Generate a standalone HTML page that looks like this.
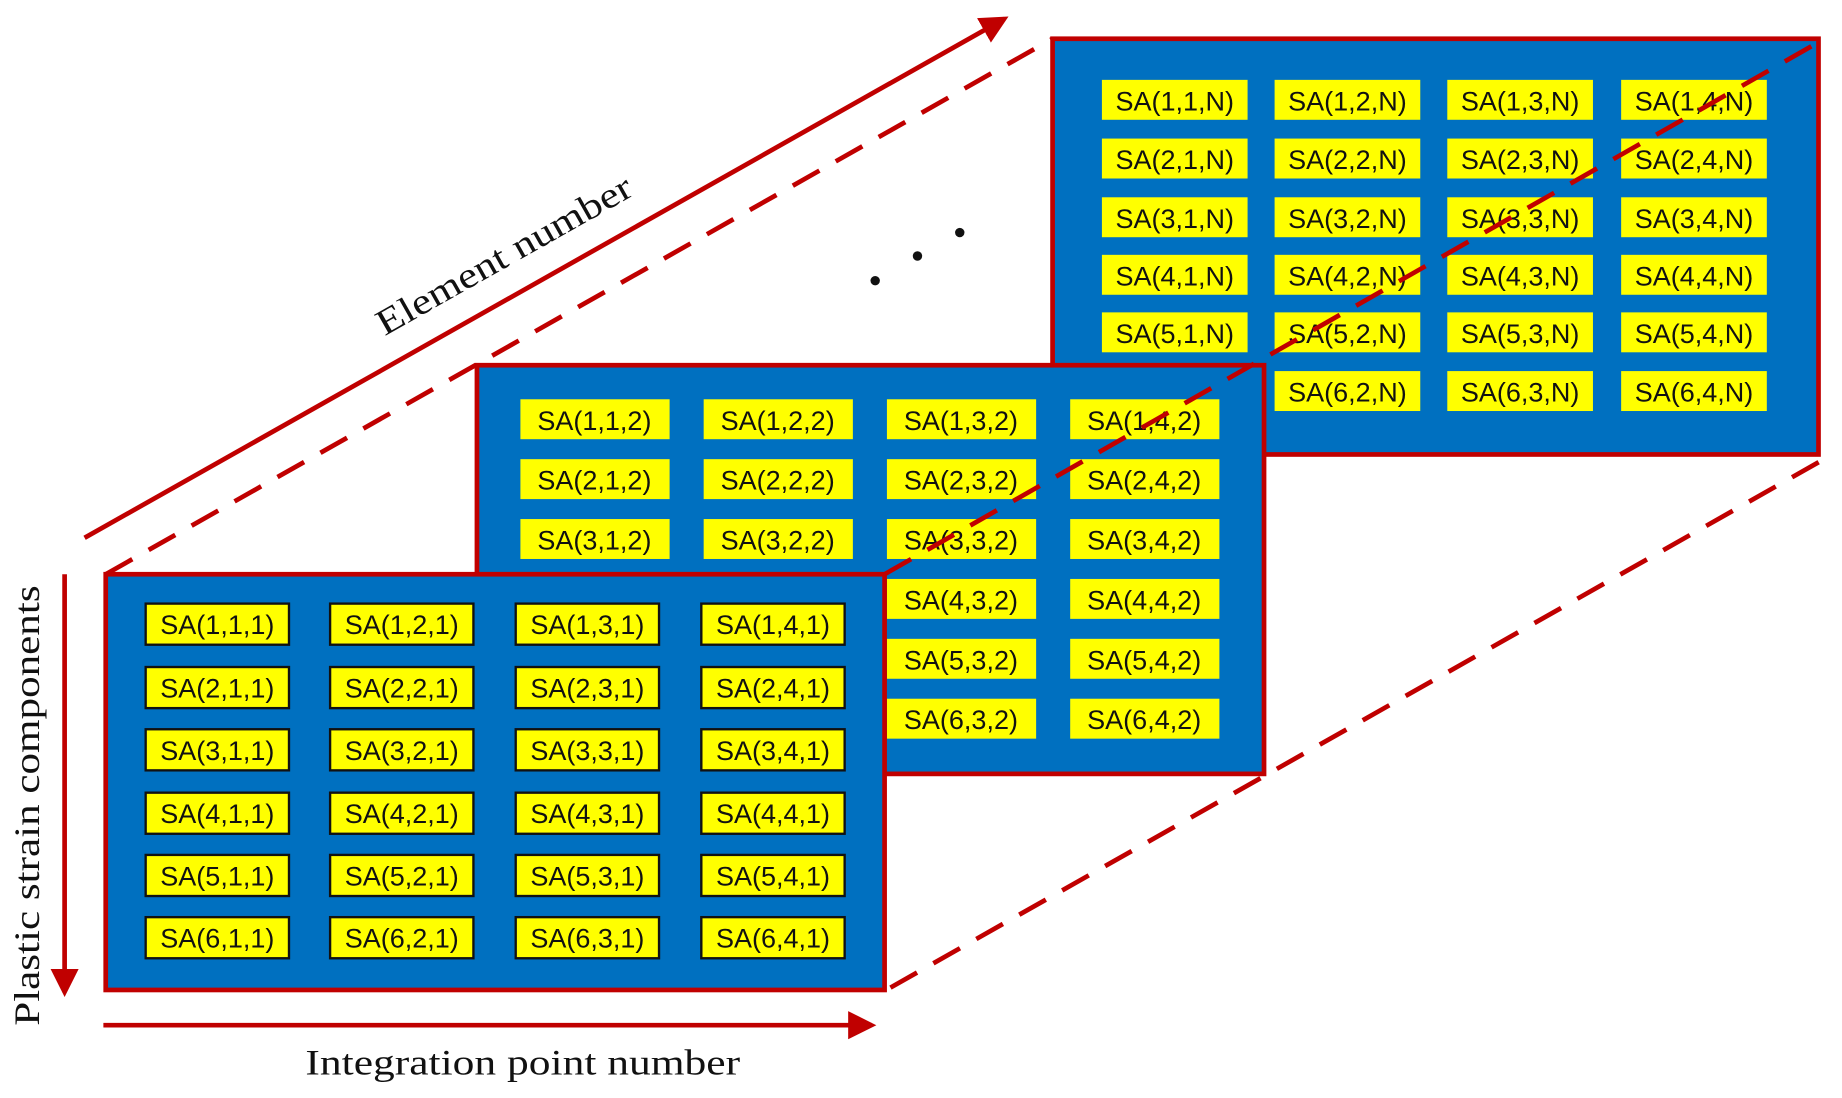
<!DOCTYPE html>
<html><head><meta charset="utf-8"><style>
html,body{margin:0;padding:0;background:#fff;}
svg{display:block;}
.b text{font-family:"Liberation Sans",sans-serif;font-size:23px;fill:#111;text-anchor:middle;}
.s{font-family:"Liberation Serif",serif;font-size:31px;fill:#111;}
</style></head><body>
<svg width="1842" height="1098" viewBox="0 0 1568 935" preserveAspectRatio="none" xmlns="http://www.w3.org/2000/svg">
<defs>
<marker id="ah" markerWidth="6" markerHeight="6" refX="5" refY="3" orient="auto" markerUnits="strokeWidth"><path d="M0,0 L6,3 L0,6 Z" fill="#C00000"/></marker>
</defs>
<line x1="72" y1="458" x2="855" y2="16" stroke="#C00000" stroke-width="4" marker-end="url(#ah)"/>
<line x1="90" y1="489" x2="896" y2="33" stroke="#C00000" stroke-width="4" stroke-dasharray="26,16"/>
<rect x="896" y="33" width="652" height="354" fill="#0070C0" stroke="#C00000" stroke-width="4"/>
<g class="b">
<g fill="#FFFF00">
<rect x="938" y="68" width="124" height="34"/><rect x="1085" y="68" width="124" height="34"/><rect x="1232" y="68" width="124" height="34"/><rect x="1380" y="68" width="124" height="34"/>
<rect x="938" y="118" width="124" height="34"/><rect x="1085" y="118" width="124" height="34"/><rect x="1232" y="118" width="124" height="34"/><rect x="1380" y="118" width="124" height="34"/>
<rect x="938" y="168" width="124" height="34"/><rect x="1085" y="168" width="124" height="34"/><rect x="1232" y="168" width="124" height="34"/><rect x="1380" y="168" width="124" height="34"/>
<rect x="938" y="217" width="124" height="34"/><rect x="1085" y="217" width="124" height="34"/><rect x="1232" y="217" width="124" height="34"/><rect x="1380" y="217" width="124" height="34"/>
<rect x="938" y="266" width="124" height="34"/><rect x="1085" y="266" width="124" height="34"/><rect x="1232" y="266" width="124" height="34"/><rect x="1380" y="266" width="124" height="34"/>
<rect x="938" y="316" width="124" height="34"/><rect x="1085" y="316" width="124" height="34"/><rect x="1232" y="316" width="124" height="34"/><rect x="1380" y="316" width="124" height="34"/>
</g>
<text x="1000" y="94">SA(1,1,N)</text><text x="1147" y="94">SA(1,2,N)</text><text x="1294" y="94">SA(1,3,N)</text><text x="1442" y="94">SA(1,4,N)</text>
<text x="1000" y="144">SA(2,1,N)</text><text x="1147" y="144">SA(2,2,N)</text><text x="1294" y="144">SA(2,3,N)</text><text x="1442" y="144">SA(2,4,N)</text>
<text x="1000" y="194">SA(3,1,N)</text><text x="1147" y="194">SA(3,2,N)</text><text x="1294" y="194">SA(3,3,N)</text><text x="1442" y="194">SA(3,4,N)</text>
<text x="1000" y="243">SA(4,1,N)</text><text x="1147" y="243">SA(4,2,N)</text><text x="1294" y="243">SA(4,3,N)</text><text x="1442" y="243">SA(4,4,N)</text>
<text x="1000" y="292">SA(5,1,N)</text><text x="1147" y="292">SA(5,2,N)</text><text x="1294" y="292">SA(5,3,N)</text><text x="1442" y="292">SA(5,4,N)</text>
<text x="1000" y="342">SA(6,1,N)</text><text x="1147" y="342">SA(6,2,N)</text><text x="1294" y="342">SA(6,3,N)</text><text x="1442" y="342">SA(6,4,N)</text>
</g>
<rect x="406" y="311" width="670" height="348" fill="#0070C0" stroke="#C00000" stroke-width="4"/>
<g class="b">
<g fill="#FFFF00">
<rect x="443" y="340" width="127" height="34"/><rect x="599" y="340" width="127" height="34"/><rect x="755" y="340" width="127" height="34"/><rect x="911" y="340" width="127" height="34"/>
<rect x="443" y="391" width="127" height="34"/><rect x="599" y="391" width="127" height="34"/><rect x="755" y="391" width="127" height="34"/><rect x="911" y="391" width="127" height="34"/>
<rect x="443" y="442" width="127" height="34"/><rect x="599" y="442" width="127" height="34"/><rect x="755" y="442" width="127" height="34"/><rect x="911" y="442" width="127" height="34"/>
<rect x="443" y="493" width="127" height="34"/><rect x="599" y="493" width="127" height="34"/><rect x="755" y="493" width="127" height="34"/><rect x="911" y="493" width="127" height="34"/>
<rect x="443" y="544" width="127" height="34"/><rect x="599" y="544" width="127" height="34"/><rect x="755" y="544" width="127" height="34"/><rect x="911" y="544" width="127" height="34"/>
<rect x="443" y="595" width="127" height="34"/><rect x="599" y="595" width="127" height="34"/><rect x="755" y="595" width="127" height="34"/><rect x="911" y="595" width="127" height="34"/>
</g>
<text x="506" y="366">SA(1,1,2)</text><text x="662" y="366">SA(1,2,2)</text><text x="818" y="366">SA(1,3,2)</text><text x="974" y="366">SA(1,4,2)</text>
<text x="506" y="417">SA(2,1,2)</text><text x="662" y="417">SA(2,2,2)</text><text x="818" y="417">SA(2,3,2)</text><text x="974" y="417">SA(2,4,2)</text>
<text x="506" y="468">SA(3,1,2)</text><text x="662" y="468">SA(3,2,2)</text><text x="818" y="468">SA(3,3,2)</text><text x="974" y="468">SA(3,4,2)</text>
<text x="506" y="519">SA(4,1,2)</text><text x="662" y="519">SA(4,2,2)</text><text x="818" y="519">SA(4,3,2)</text><text x="974" y="519">SA(4,4,2)</text>
<text x="506" y="570">SA(5,1,2)</text><text x="662" y="570">SA(5,2,2)</text><text x="818" y="570">SA(5,3,2)</text><text x="974" y="570">SA(5,4,2)</text>
<text x="506" y="621">SA(6,1,2)</text><text x="662" y="621">SA(6,2,2)</text><text x="818" y="621">SA(6,3,2)</text><text x="974" y="621">SA(6,4,2)</text>
</g>
<rect x="90" y="489" width="663" height="354" fill="#0070C0" stroke="#C00000" stroke-width="4"/>
<g class="b">
<g fill="#FFFF00" stroke="#111" stroke-width="2">
<rect x="124" y="514" width="122" height="35"/><rect x="281" y="514" width="122" height="35"/><rect x="439" y="514" width="122" height="35"/><rect x="597" y="514" width="122" height="35"/>
<rect x="124" y="568" width="122" height="35"/><rect x="281" y="568" width="122" height="35"/><rect x="439" y="568" width="122" height="35"/><rect x="597" y="568" width="122" height="35"/>
<rect x="124" y="621" width="122" height="35"/><rect x="281" y="621" width="122" height="35"/><rect x="439" y="621" width="122" height="35"/><rect x="597" y="621" width="122" height="35"/>
<rect x="124" y="675" width="122" height="35"/><rect x="281" y="675" width="122" height="35"/><rect x="439" y="675" width="122" height="35"/><rect x="597" y="675" width="122" height="35"/>
<rect x="124" y="728" width="122" height="35"/><rect x="281" y="728" width="122" height="35"/><rect x="439" y="728" width="122" height="35"/><rect x="597" y="728" width="122" height="35"/>
<rect x="124" y="781" width="122" height="35"/><rect x="281" y="781" width="122" height="35"/><rect x="439" y="781" width="122" height="35"/><rect x="597" y="781" width="122" height="35"/>
</g>
<text x="185" y="540">SA(1,1,1)</text><text x="342" y="540">SA(1,2,1)</text><text x="500" y="540">SA(1,3,1)</text><text x="658" y="540">SA(1,4,1)</text>
<text x="185" y="594">SA(2,1,1)</text><text x="342" y="594">SA(2,2,1)</text><text x="500" y="594">SA(2,3,1)</text><text x="658" y="594">SA(2,4,1)</text>
<text x="185" y="647">SA(3,1,1)</text><text x="342" y="647">SA(3,2,1)</text><text x="500" y="647">SA(3,3,1)</text><text x="658" y="647">SA(3,4,1)</text>
<text x="185" y="701">SA(4,1,1)</text><text x="342" y="701">SA(4,2,1)</text><text x="500" y="701">SA(4,3,1)</text><text x="658" y="701">SA(4,4,1)</text>
<text x="185" y="754">SA(5,1,1)</text><text x="342" y="754">SA(5,2,1)</text><text x="500" y="754">SA(5,3,1)</text><text x="658" y="754">SA(5,4,1)</text>
<text x="185" y="807">SA(6,1,1)</text><text x="342" y="807">SA(6,2,1)</text><text x="500" y="807">SA(6,3,1)</text><text x="658" y="807">SA(6,4,1)</text>
</g>
<line x1="753" y1="489" x2="1548" y2="36" stroke="#C00000" stroke-width="4" stroke-dasharray="26,16"/>
<line x1="758" y1="841" x2="1558" y2="388" stroke="#C00000" stroke-width="4" stroke-dasharray="26,16"/>
<line x1="55" y1="489" x2="55" y2="845" stroke="#C00000" stroke-width="4" marker-end="url(#ah)"/>
<line x1="88" y1="873" x2="742" y2="873" stroke="#C00000" stroke-width="4" marker-end="url(#ah)"/>
<circle cx="745" cy="239" r="4" fill="#111"/><circle cx="781" cy="218" r="4" fill="#111"/><circle cx="817" cy="198" r="4" fill="#111"/>
<text class="s" x="445" y="915" text-anchor="middle" textLength="370" lengthAdjust="spacingAndGlyphs">Integration point number</text>
<text class="s" transform="translate(33,686) rotate(-90)" text-anchor="middle" textLength="375" lengthAdjust="spacingAndGlyphs">Plastic strain components</text>
<text class="s" transform="translate(434,226) rotate(-29.5)" text-anchor="middle" textLength="245" lengthAdjust="spacingAndGlyphs">Element number</text>
</svg>
</body></html>
